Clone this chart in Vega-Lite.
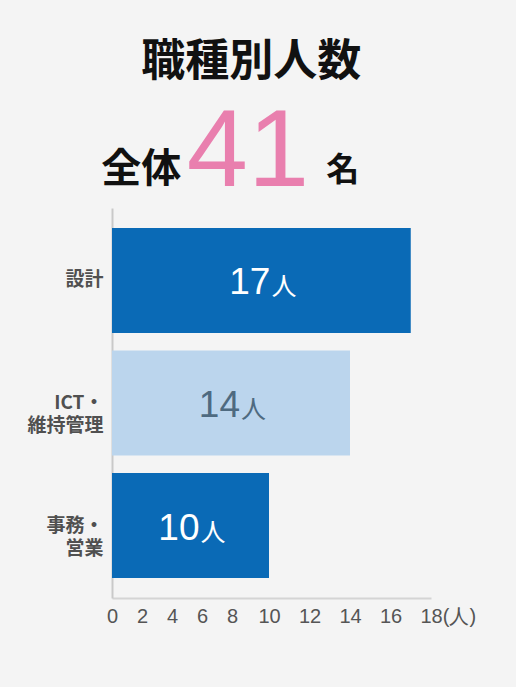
{
  "$schema": "https://vega.github.io/schema/vega-lite/v6.json",
  "background": "#f4f4f4",
  "padding": {"left": 26, "top": 41, "right": 40, "bottom": 63},
  "title": {
    "text": "職種別人数",
    "font": "Noto Sans CJK JP",
    "fontSize": 44,
    "fontWeight": "bold",
    "color": "#111111",
    "anchor": "middle",
    "offset": 13
  },
  "datasets": {
    "header": [
      {"part": "全体"},
      {"part": "41"},
      {"part": "名"}
    ],
    "jobs": [
      {"job": "設計", "count": 17},
      {"job": "ICT・維持管理", "count": 14},
      {"job": "事務・営業", "count": 10}
    ]
  },
  "spacing": 0,
  "vconcat": [
    {
      "width": 260,
      "height": 20,
      "data": {"name": "header"},
      "encoding": {
        "x": {
          "field": "part",
          "type": "nominal",
          "scale": {"domain": ["全体", "41", "名"], "padding": 0.29},
          "axis": null
        },
        "text": {"field": "part"}
      },
      "layer": [
        {
          "transform": [{"filter": "datum.part == '全体'"}],
          "mark": {"type": "text", "font": "Noto Sans CJK JP", "fontWeight": "bold", "fontSize": 40, "baseline": "alphabetic", "dy": -4, "color": "#111111"}
        },
        {
          "transform": [{"filter": "datum.part == '41'"}],
          "mark": {"type": "text", "font": "Liberation Sans", "fontSize": 110, "baseline": "alphabetic", "dx": 6, "color": "#e97fae"}
        },
        {
          "transform": [{"filter": "datum.part == '名'"}],
          "mark": {"type": "text", "font": "Noto Sans CJK JP", "fontWeight": "bold", "fontSize": 33, "baseline": "alphabetic", "dy": -5, "color": "#111111"}
        }
      ]
    },
    {
      "width": 319,
      "height": 390,
      "data": {"name": "jobs"},
      "encoding": {
        "y": {
          "field": "job",
          "type": "nominal",
          "sort": null,
          "scale": {"paddingInner": 0.143, "paddingOuter": 0.163},
          "axis": {
            "title": null,
            "ticks": false,
            "domainColor": "#c9c9c9",
            "domainWidth": 2,
            "labelFont": "Noto Sans CJK JP",
            "labelFontWeight": "bold",
            "labelFontSize": 19,
            "labelColor": "#505050",
            "labelPadding": 9,
            "labelLineHeight": 23,
            "labelExpr": "indexof(datum.label, '・') > 0 ? [slice(datum.label, 0, indexof(datum.label, '・') + 1), slice(datum.label, indexof(datum.label, '・') + 1)] : datum.label"
          }
        },
        "color": {
          "condition": {"test": "datum.job == 'ICT・維持管理'", "value": "#4e6a80"},
          "value": "#ffffff"
        }
      },
      "layer": [
        {
          "mark": {"type": "bar"},
          "encoding": {
            "x": {
              "field": "count",
              "type": "quantitative",
              "scale": {"domain": [0, 8, 10, 18], "range": [0, 120, 157, 319], "nice": false, "zero": false},
              "axis": {
                "values": [0, 2, 4, 6, 8, 10, 12, 14, 16, 18],
                "title": null,
                "grid": false,
                "ticks": false,
                "domainColor": "#d4d4d4",
                "domainWidth": 2,
                "labelFont": "Liberation Sans",
                "labelFontSize": 20,
                "labelColor": "#555555",
                "labelPadding": 8,
                "labelFlush": false,
                "labelOverlap": false,
                "labelAlign": {"condition": {"test": "datum.value == 18", "value": "left"}, "value": "center"},
                "labelOffset": {"condition": {"test": "datum.value == 18", "value": -11}, "value": 0},
                "labelExpr": "datum.value == 18 ? '18(人)' : datum.label"
              }
            },
            "color": {
              "condition": {"test": "datum.job == 'ICT・維持管理'", "value": "#bbd5ed"},
              "value": "#0a6ab6"
            }
          }
        },
        {
          "mark": {"type": "text", "font": "Liberation Sans", "fontSize": 37, "align": "right", "baseline": "alphabetic", "dx": 9, "dy": 14},
          "encoding": {
            "x": {
              "field": "count",
              "type": "quantitative",
              "scale": {"domain": [0, 8, 10, 18], "range": [0, 60, 78.5, 159.5], "nice": false, "zero": false},
              "axis": null
            },
            "text": {"field": "count", "type": "quantitative"}
          }
        },
        {
          "mark": {"type": "text", "font": "Noto Sans CJK JP", "fontSize": 25, "align": "left", "baseline": "alphabetic", "dx": 10, "dy": 15},
          "encoding": {
            "x": {
              "field": "count",
              "type": "quantitative",
              "scale": {"domain": [0, 8, 10, 18], "range": [0, 60, 78.5, 159.5], "nice": false, "zero": false},
              "axis": null
            },
            "text": {"value": "人"}
          }
        }
      ],
      "resolve": {"scale": {"x": "independent"}}
    }
  ],
  "config": {"view": {"stroke": null}}
}
